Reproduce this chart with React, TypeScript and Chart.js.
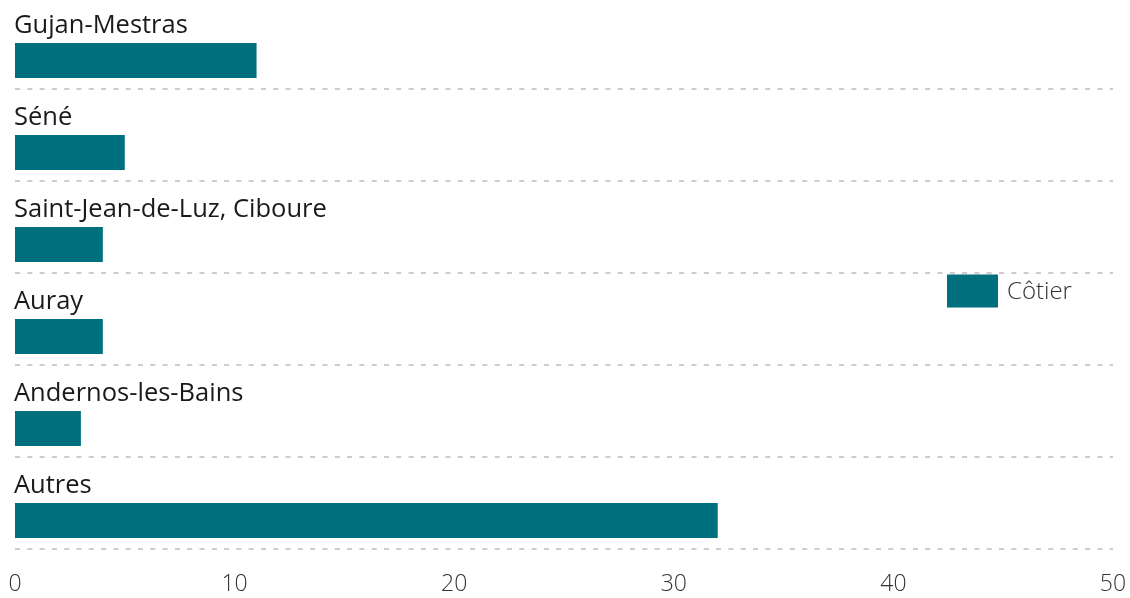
import React, { useEffect, useRef } from "react";
import { Chart, registerables } from "chart.js";

Chart.register(...registerables);

const categories = ["Gujan-Mestras", "Séné", "Saint-Jean-de-Luz, Ciboure", "Auray", "Andernos-les-Bains", "Autres"];
const coastalValues = [11, 5, 4, 4, 3, 32];
const seriesLabel = "Côtier";
const xTicks = [0, 10, 20, 30, 40, 50];

const BAR_COLOR = "#006f7e";
const FONT = "'Open Sans', Lato, sans-serif";

const labelPlugin = {
  id: "categoryLabels",
  afterDatasetsDraw(chart: any) {
    const { ctx, chartArea } = chart;
    const meta = chart.getDatasetMeta(1);
    ctx.save();
    ctx.font = `400 25.5px ${FONT}`;
    ctx.fillStyle = "#1a1a1a";
    ctx.textAlign = "left";
    ctx.textBaseline = "alphabetic";
    meta.data.forEach((bar: any, i: number) => {
      const top = bar.y - bar.height / 2;
      ctx.fillText(categories[i], chartArea.left - 1, top - 10);
    });
    // legend
    const ds = chart.data.datasets[1];
    const bx = chartArea.right - 166;
    const cy = (chartArea.top + chartArea.bottom) / 2 + 18;
    ctx.fillStyle = ds.backgroundColor;
    ctx.fillRect(bx, cy - 16.5, 51, 33);
    ctx.font = `300 24px ${FONT}`;
    ctx.fillStyle = "#333";
    ctx.textBaseline = "middle";
    ctx.fillText(ds.label, bx + 60, cy + 1);
    ctx.restore();
  },
};

export default function App() {
  const ref = useRef<HTMLCanvasElement | null>(null);
  useEffect(() => {
    if (!ref.current) return;
    const chart = new Chart(ref.current, {
      type: "bar",
      data: {
        labels: categories,
        datasets: [
          { label: "_spacer", data: categories.map(() => null), backgroundColor: "rgba(0,0,0,0)" },
          { label: seriesLabel, data: coastalValues, backgroundColor: BAR_COLOR },
        ],
      },
      options: {
        indexAxis: "y",
        animation: false,
        responsive: true,
        maintainAspectRatio: false,
        layout: { padding: { left: 15, right: 17, top: 0, bottom: 0 } },
        datasets: { bar: { categoryPercentage: 70 / 92, barPercentage: 1, borderWidth: 0 } },
        plugins: { legend: { display: false }, tooltip: { enabled: false } },
        scales: {
          x: {
            min: 0,
            max: 50,
            afterBuildTicks: (s: any) => {
              s.ticks = xTicks.map((v) => ({ value: v }));
            },
            afterFit: (s: any) => {
              s.height = 49;
              s.paddingLeft = 0;
              s.paddingRight = 0;
            },
            grid: { display: false, drawTicks: false },
            border: { display: false },
            ticks: { padding: 22, color: "#333", font: { family: FONT, size: 23, weight: "300" } },
          },
          y: {
            afterFit: (s: any) => {
              s.width = 0;
            },
            grid: {
              offset: true,
              drawTicks: false,
              color: "#cccccc",
              lineWidth: 2,
            },
            border: { display: false, dash: [5, 7.3] },
            ticks: { display: false },
          },
        },
      },
      plugins: [labelPlugin],
    } as any);
    return () => chart.destroy();
  }, []);
  return (
    <div style={{ position: "fixed", left: 0, top: -3, width: 1130, height: 601 }}>
      <canvas ref={ref} />
    </div>
  );
}
